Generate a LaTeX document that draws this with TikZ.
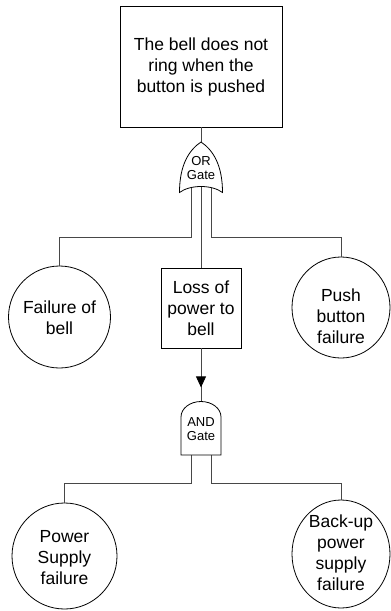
\documentclass[tikz,border=0pt]{standalone}
\usepackage{fontspec}
\setmainfont{Liberation Sans}
\usetikzlibrary{shapes.geometric,arrows.meta,decorations.markings}
\begin{document}
\begin{tikzpicture}[x=1pt,y=-1pt,
  conn/.style={draw=black!72,line width=0.8pt},
  boxnode/.style={draw=black,line width=0.8pt,rectangle,inner sep=0pt,align=center,font=\fontsize{17.5}{21}\selectfont},
  evt/.style={draw=black,line width=0.8pt,ellipse,inner sep=0pt},
  txt/.style={align=center,inner sep=0pt,font=\fontsize{17.5}{21}\selectfont},
  gatetxt/.style={align=center,inner sep=0pt,font=\fontsize{13}{14.5}\selectfont},
  gate/.style={draw=black,line width=0.8pt,fill=white}]
\useasboundingbox (0,0) rectangle (391,611);

% top event
\node[boxnode,minimum width=162pt,minimum height=121pt] (top) at (201,66.5) {The bell does not\\ring when the\\button is pushed};

% intermediate event
\node[boxnode,minimum width=80pt,minimum height=80pt] (loss) at (201,308) {Loss of\\power to\\bell};

% basic events
\node[evt,minimum width=102pt,minimum height=102pt] (fail) at (59.5,317) {};
\node[txt] (failtxt) at (59.5,318) {Failure of\\bell};
\node[evt,minimum width=98pt,minimum height=101pt] (push) at (341,307.5) {};
\node[txt] (pushtxt) at (341,316) {Push\\button\\failure};
\node[evt,minimum width=105pt,minimum height=106pt] (power) at (64.5,556) {};
\node[txt] (powertxt) at (64.5,557.5) {Power\\Supply\\failure};
\node[evt,minimum width=98pt,minimum height=108pt] (backup) at (341,554) {};
\node[txt] (backuptxt) at (341,553) {Back-up\\power\\supply\\failure};

% gate coordinates
\coordinate (ortip) at (201,142);
\coordinate (orL) at (191,186);
\coordinate (orM) at (201,186);
\coordinate (orR) at (211,186);
\coordinate (andtop) at (201,401.5);
\coordinate (andL) at (191,454);
\coordinate (andR) at (211,454);

% connectors
\draw[conn] (top.south) -- (ortip);
\draw[conn] (orL) -- ++(0,51.5) -| (fail.north);
\draw[conn] (orM) -- (loss.north);
\draw[conn] (orR) -- ++(0,51.5) -| (push.north);
\draw[conn,postaction={decorate},decoration={markings,mark=at position 39pt with {\arrow{Triangle[width=10pt,length=11pt,color=black]}}}] (loss.south) -- (andtop);
\draw[conn] (andL) -- ++(0,29.5) -| (power.north);
\draw[conn] (andR) -- ++(0,29.5) -| (backup.north);

% OR gate
\draw[gate] (179.5,192.5) .. controls (179.5,165) and (189,150) .. (ortip)
  .. controls (213,150) and (222.5,165) .. (222.5,192.5)
  .. controls (212,184.5) and (190,184.5) .. cycle;
\node[gatetxt] (orgate) at (201,168) {OR\\Gate};

% AND gate
\draw[gate] (181,455) -- (181,417) .. controls (181,408.44) and (189.95,401.5) .. (andtop)
  .. controls (212.05,401.5) and (221,408.44) .. (221,417) -- (221,455) -- cycle;
\node[gatetxt] (andgate) at (201,429) {AND\\Gate};
\end{tikzpicture}
\end{document}
